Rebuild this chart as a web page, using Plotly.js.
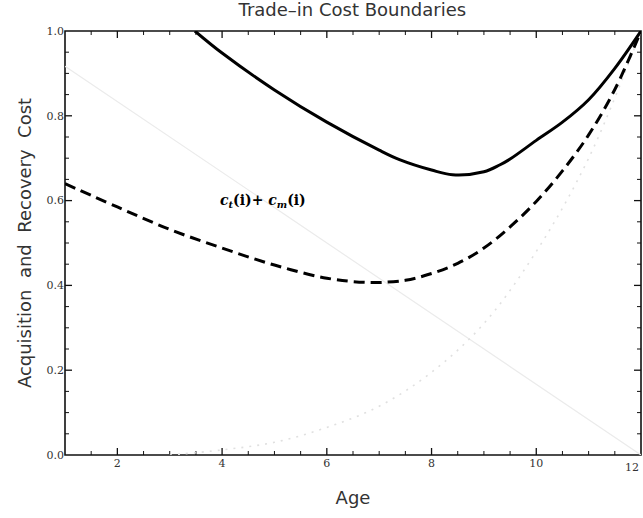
<!DOCTYPE html>
<html>
<head>
<meta charset="utf-8">
<script src="https://cdn.plot.ly/plotly-3.0.1.min.js"></script>
<style>html,body{margin:0;padding:0;background:#fff;}#chart{width:643px;height:518px;}</style>
</head>
<body>
<div id="chart"></div>
<script>
// Upper boundary (solid)
const solidAge  = [3.48, 4.0, 5.0, 6.0, 7.0, 7.4, 8.0, 8.4, 9.0, 9.3, 9.5, 10.0, 10.5, 11.0, 11.5, 12.0];
const solidCost = [1.0, 0.948, 0.861, 0.785, 0.719, 0.696, 0.672, 0.661, 0.668, 0.684, 0.698, 0.742, 0.785, 0.838, 0.912, 1.0];
// Lower boundary (dashed)
const dashAge  = [1, 2, 3, 4, 5, 6, 6.8, 7.5, 8, 8.5, 9, 9.5, 10, 10.5, 11, 11.5, 12];
const dashCost = [0.64, 0.585, 0.532, 0.488, 0.448, 0.417, 0.407, 0.412, 0.428, 0.452, 0.488, 0.538, 0.598, 0.67, 0.755, 0.862, 1.0];
// Acquisition cost c_t(i) (faint line)
const ctAge  = [1, 12];
const ctCost = [0.917, 0.0];
// Recovery cost c_m(i) (faint dotted)
const cmAge  = [3, 4, 5, 6, 7, 8, 9, 10, 11, 12];
const cmCost = [0.0, 0.012, 0.03, 0.065, 0.115, 0.195, 0.31, 0.48, 0.70, 1.0];

// Tick marks
const xMajorTicks = [2, 4, 6, 8, 10];
const xMinorTicks = [1.5, 2.5, 3, 3.5, 4.5, 5, 5.5, 6.5, 7, 7.5, 8.5, 9, 9.5, 10.5, 11, 11.5];
const yMajorTicks = [0.2, 0.4, 0.6, 0.8];
const yMinorTicks = [0.05, 0.1, 0.15, 0.25, 0.3, 0.35, 0.45, 0.5, 0.55, 0.65, 0.7, 0.75, 0.85, 0.9, 0.95];

const traces = [
  {x: ctAge, y: ctCost, mode: 'lines', line: {color: '#ebebeb', width: 1.2}},
  {x: cmAge, y: cmCost, mode: 'lines', line: {color: '#e0e0e0', width: 1.6, dash: '2px,6px', shape: 'spline'}},
  {x: dashAge, y: dashCost, mode: 'lines', line: {color: '#000', width: 3, dash: '11px,6px', shape: 'spline'}},
  {x: solidAge, y: solidCost, mode: 'lines', line: {color: '#000', width: 3, shape: 'spline'}}
];

// plot area is 576 x 424 px
const XMAJ = 7 / 424, XMIN = 4 / 424, YMAJ = 7 / 576, YMIN = 4 / 576;
const shapes = [{
  type: 'rect', xref: 'paper', yref: 'paper', x0: 0, x1: 1, y0: 0, y1: 1,
  line: {color: '#111', width: 1.6}, layer: 'below'
}];
function xTick(v, len, w) {
  shapes.push({type: 'line', xref: 'x', yref: 'paper', x0: v, x1: v, y0: 0, y1: len, line: {color: '#111', width: w}, layer: 'below'});
  shapes.push({type: 'line', xref: 'x', yref: 'paper', x0: v, x1: v, y0: 1, y1: 1 - len, line: {color: '#111', width: w}, layer: 'below'});
}
function yTick(v, len, w) {
  shapes.push({type: 'line', xref: 'paper', yref: 'y', x0: 0, x1: len, y0: v, y1: v, line: {color: '#111', width: w}, layer: 'below'});
  shapes.push({type: 'line', xref: 'paper', yref: 'y', x0: 1, x1: 1 - len, y0: v, y1: v, line: {color: '#111', width: w}, layer: 'below'});
}
xMajorTicks.forEach(v => xTick(v, XMAJ, 1.3));
xMinorTicks.forEach(v => xTick(v, XMIN, 1));
yMajorTicks.forEach(v => yTick(v, YMAJ, 1.3));
yMinorTicks.forEach(v => yTick(v, YMIN, 1));

const tickFont = {family: 'DejaVu Serif, serif', size: 11, color: '#333'};
const layout = {
  width: 643, height: 518,
  margin: {l: 65, r: 2, t: 31, b: 63},
  showlegend: false,
  paper_bgcolor: '#fff', plot_bgcolor: 'rgba(0,0,0,0)',
  title: {text: 'Trade–in Cost Boundaries', font: {family: 'DejaVu Sans, sans-serif', size: 18, color: '#333'}, x: 0.548, xanchor: 'center', y: 0.994, yanchor: 'top'},
  xaxis: {
    range: [1, 12], showgrid: false, zeroline: false, showline: false,
    ticks: '', tickvals: xMajorTicks, tickfont: tickFont,
    title: {text: 'Age', font: {family: 'DejaVu Sans, sans-serif', size: 18, color: '#333'}, standoff: 22}
  },
  yaxis: {
    range: [0, 1], showgrid: false, zeroline: false, showline: false,
    ticks: '', tick0: 0, dtick: 0.2, tickformat: '.1f', tickfont: tickFont,
    title: {text: 'Acquisition  and  Recovery  Cost', font: {family: 'DejaVu Sans, sans-serif', size: 18, color: '#333'}, standoff: 10}
  },
  shapes: shapes,
  annotations: [{
    x: 4.78, y: 0.60, xref: 'x', yref: 'y', showarrow: false,
    text: '<b><i>c</i><sub><i>t</i></sub>(i)+ <i>c</i><sub><i>m</i></sub>(i)</b>',
    font: {family: 'DejaVu Serif, serif', size: 14, color: '#000'}
  }, {
    x: 12, y: 0, xref: 'x', yref: 'y', xanchor: 'right', yanchor: 'top', yshift: -4,
    showarrow: false, text: '12', font: tickFont
  }]
};
Plotly.newPlot('chart', traces, layout, {displayModeBar: false});
</script>
</body>
</html>
